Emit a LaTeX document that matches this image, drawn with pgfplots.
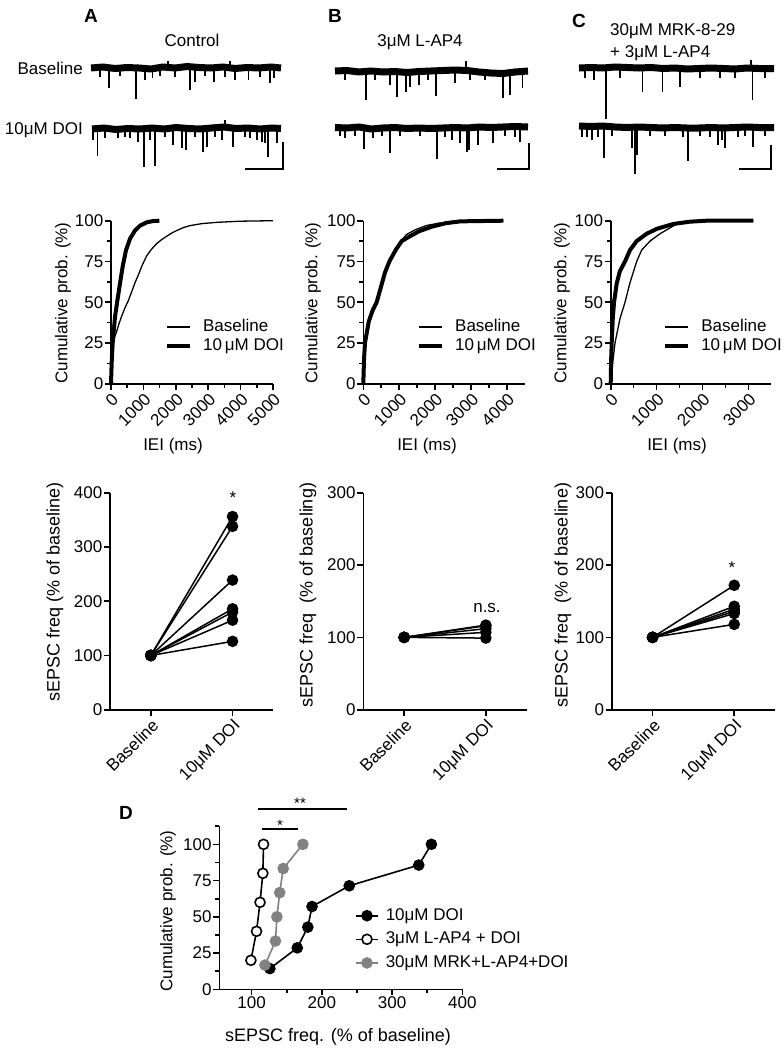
\documentclass[border=0pt]{standalone}
\usepackage{fontspec}
\setmainfont{Liberation Sans}
\usepackage{pgfplots}
\pgfplotsset{compat=1.18}
\newcommand{\fs}{\fontsize{17}{20}\selectfont}
\newcommand{\fl}{\fontsize{18}{21}\selectfont}
\newcommand{\fsb}{\fontsize{19}{22}\selectfont\bfseries}
\definecolor{gp}{RGB}{130,130,130}
\pgfplotsset{
 gpaxis/.style={scale only axis, axis x line=bottom, axis y line=left,
   axis line style={-, line width=1.6pt}, tick style={black, line width=1.6pt},
   tick align=outside, major tick length=6pt, minor tick length=4pt, clip=false,
   tick label style={font=\fs}, yticklabel style={inner sep=1.5pt},
   xticklabel style={inner sep=1.5pt}, scaled ticks=false, anchor=north west},
 cdf/.style={gpaxis, width=162pt, height=163pt, ymin=0, ymax=100,
   ytick={0,25,50,75,100}, yticklabels={0,25,50,75,100},
   minor y tick num=1, minor x tick num=1,
   xticklabel style={rotate=45, anchor=north east},
   legend cell align=left,
   legend style={draw=none, fill=none, inner sep=0pt, font=\fs, anchor=west, row sep=2pt,
     nodes={inner sep=1pt, text height=12pt, text depth=3pt}},
   legend image code/.code={\draw (0pt,0pt)--(23pt,0pt); \path (33pt,0pt);}},
 pair/.style={gpaxis, width=163.4pt, height=217pt, xmin=-0.5, xmax=1.5, ymin=0,
   xtick={0,1}, xticklabels={Baseline,10μM DOI},
   xticklabel style={rotate=45, anchor=north east}},
 pl/.style={black, line width=1.5pt, mark=*, mark size=5pt},
 band/.style={black, line width=7pt, line join=round},
 spk/.style={black, line width=1.2pt, unbounded coords=jump},
}
\begin{document}
\begin{tikzpicture}
\useasboundingbox (0,0) rectangle (784pt,-1050pt);
% ---------------- traces ----------------
\begin{axis}[hide axis, scale only axis, width=784pt, height=180pt, xmin=0, xmax=784,
  ymin=-180, ymax=0, at={(0pt,0pt)}, anchor=north west, clip=false]
\addplot[band] coordinates {(91,-68)(103,-67)(115,-68.5)(127,-67.5)(139,-68)(151,-69)(163,-67)(175,-68)(187,-66.5)(199,-67.5)(211,-68)(223,-67)(235,-68.5)(247,-67.5)(259,-68)(271,-67)(281,-68)};
\addplot[band] coordinates {(92,-129)(104,-128)(116,-129.5)(128,-128.5)(140,-129)(152,-128)(164,-129)(176,-127.5)(188,-128.5)(200,-129)(212,-128)(224,-127)(236,-128.5)(248,-128)(260,-129)(272,-128)(281,-128.5)};
\addplot[band] coordinates {(335,-71)(347,-70.5)(359,-72)(371,-71)(383,-72)(395,-71.5)(407,-72.5)(419,-71.5)(431,-71)(443,-70.5)(455,-70)(467,-70.5)(479,-72)(491,-73)(503,-73.5)(515,-72)(528,-71)};
\addplot[band] coordinates {(335,-127.5)(347,-128)(359,-127)(371,-129)(383,-128)(395,-127.5)(407,-128.5)(419,-128)(431,-128.5)(443,-128)(455,-127.5)(467,-128)(479,-127)(491,-127.5)(503,-127)(515,-126.5)(528,-127)};
\addplot[band] coordinates {(579,-68)(591,-67.5)(603,-68)(615,-67)(627,-67.5)(639,-68)(651,-67.5)(663,-68.5)(675,-68)(687,-69)(699,-68.5)(711,-68)(723,-68.5)(735,-69)(747,-68)(759,-68.5)(774,-68.5)};
\addplot[band] coordinates {(579,-126)(591,-126.5)(603,-126)(615,-127)(627,-127.5)(639,-127)(651,-127.5)(663,-128)(675,-127.5)(687,-128)(699,-128)(711,-127.5)(723,-128)(735,-127.5)(747,-127)(759,-127.5)(774,-127.5)};
% spikes A baseline
\addplot[spk] coordinates {
(100,-68)(100,-77)(100,nan)(109,-68)(109,-88)(109,nan)(120,-68)(120,-76)(120,nan)(136,-68)(136,-99)(136,nan)
(145,-68)(145,-80)(145,nan)(152.5,-68)(152.5,-78)(152.5,nan)(160,-68)(160,-76)(160,nan)(175,-68)(175,-77)(175,nan)
(190,-68)(190,-90)(190,nan)(195,-68)(195,-82)(195,nan)(205,-68)(205,-76)(205,nan)(214,-68)(214,-82)(214,nan)
(225,-68)(225,-77)(225,nan)(235,-68)(235,-80)(235,nan)(248.5,-68)(248.5,-80)(248.5,nan)(260,-68)(260,-77)(260,nan)
(270,-68)(270,-83)(270,nan)(274,-68)(274,-78)(274,nan)(168,-68)(168,-61)(168,nan)(230,-68)(230,-61)};
% spikes A DOI
\addplot[spk] coordinates {
(93,-128)(93,-140)(93,nan)(97.7,-128)(97.7,-156)(97.7,nan)(105,-128)(105,-138)(105,nan)(118,-128)(118,-138)(118,nan)
(125,-128)(125,-137)(125,nan)(130,-128)(130,-138)(130,nan)(138,-128)(138,-142)(138,nan)(144,-128)(144,-167)(144,nan)
(150,-128)(150,-140)(150,nan)(155,-128)(155,-166)(155,nan)(165,-128)(165,-137)(165,nan)(173,-128)(173,-145)(173,nan)
(182,-128)(182,-148)(182,nan)(186,-128)(186,-150)(186,nan)(195,-128)(195,-137)(195,nan)(203,-128)(203,-152)(203,nan)
(207,-128)(207,-147)(207,nan)(215,-128)(215,-137)(215,nan)(222,-128)(222,-140)(222,nan)(233,-128)(233,-147)(233,nan)
(245,-128)(245,-137)(245,nan)(250,-128)(250,-138)(250,nan)(257,-128)(257,-140)(257,nan)(262,-128)(262,-142)(262,nan)
(265,-128)(265,-143)(265,nan)(268,-128)(268,-157)(268,nan)(277,-128)(277,-143)(277,nan)(225,-128)(225,-120)};
% spikes B baseline
\addplot[spk] coordinates {
(345,-71)(345,-80)(345,nan)(366,-71)(366,-100)(366,nan)(375,-71)(375,-80)(375,nan)(390,-71)(390,-85)(390,nan)
(397,-71)(397,-97)(397,nan)(406,-71)(406,-92)(406,nan)(410,-71)(410,-87)(410,nan)(419,-71)(419,-85)(419,nan)
(428,-71)(428,-80)(428,nan)(436,-71)(436,-96)(436,nan)(455,-71)(455,-83)(455,nan)(466,-71)(466,-61)(466,nan)
(470,-71)(470,-80)(470,nan)(485,-71)(485,-80)(485,nan)(503,-71)(503,-98)(503,nan)(510,-71)(510,-95)(510,nan)
(522.5,-71)(522.5,-88)};
% spikes B DOI
\addplot[spk] coordinates {
(340,-128)(340,-136)(340,nan)(345,-128)(345,-138)(345,nan)(355,-128)(355,-136)(355,nan)(364,-128)(364,-149)(364,nan)
(373,-128)(373,-138)(373,nan)(382,-128)(382,-136)(382,nan)(390,-128)(390,-153)(390,nan)(400,-128)(400,-136)(400,nan)
(420,-128)(420,-136)(420,nan)(437,-128)(437,-159)(437,nan)(445,-128)(445,-137)(445,nan)(452,-128)(452,-140)(452,nan)
(460,-128)(460,-143)(460,nan)(467,-128)(467,-152)(467,nan)(469,-128)(469,-150)(469,nan)(478,-128)(478,-145)(478,nan)
(493,-128)(493,-143)(493,nan)(505,-128)(505,-136)(505,nan)(515,-128)(515,-137)(515,nan)(520,-128)(520,-142)};
% spikes C baseline
\addplot[spk] coordinates {
(585,-68)(585,-78)(585,nan)(594,-68)(594,-80)(594,nan)(606,-68)(606,-119)(606,nan)(620,-68)(620,-78)(620,nan)
(642.5,-68)(642.5,-92)(642.5,nan)(662.5,-68)(662.5,-92)(662.5,nan)(680,-68)(680,-87)(680,nan)(700,-68)(700,-78)(700,nan)
(720,-68)(720,-78)(720,nan)(735,-68)(735,-78)(735,nan)(752.5,-68)(752.5,-100)(752.5,nan)(751,-68)(751,-60)(751,nan)
(765,-68)(765,-78)};
% spikes C DOI
\addplot[spk] coordinates {
(582,-127)(582,-137)(582,nan)(587,-127)(587,-137)(587,nan)(592,-127)(592,-140)(592,nan)(598,-127)(598,-137)(598,nan)
(604,-127)(604,-158)(604,nan)(612,-127)(612,-136)(612,nan)(632,-127)(632,-148)(632,nan)(635,-127)(635,-174)(635,nan)
(637,-127)(637,-155)(637,nan)(650,-127)(650,-136)(650,nan)(665,-127)(665,-136)(665,nan)(683,-127)(683,-137)(683,nan)
(688,-127)(688,-161)(688,nan)(700,-127)(700,-136)(700,nan)(710,-127)(710,-137)(710,nan)(718,-127)(718,-145)(718,nan)
(722,-127)(722,-140)(722,nan)(725,-127)(725,-148)(725,nan)(738,-127)(738,-137)(738,nan)(745,-127)(745,-136)(745,nan)
(753,-127)(753,-147)(753,nan)(765,-127)(765,-136)};
% scale bars
\addplot[black, line width=2.2pt] coordinates {(245,-169)(283,-169)(283,-142)};
\addplot[black, line width=2.2pt] coordinates {(497,-169)(529,-169)(529,-143)};
\addplot[black, line width=2.2pt] coordinates {(739,-169)(771,-169)(771,-145)};
\end{axis}
% top texts
\node[font=\fsb, anchor=base] at (91pt,-22pt) {A};
\node[font=\fsb, anchor=base] at (335pt,-22pt) {B};
\node[font=\fsb, anchor=base] at (579pt,-27pt) {C};
\node[font=\fs, anchor=base] at (192pt,-46pt) {Control};
\node[font=\fs, anchor=base] at (420pt,-46pt) {3μM L-AP4};
\node[font=\fs, anchor=base west, inner sep=0pt] at (610pt,-35.3pt) {30μM MRK-8-29};
\node[font=\fs, anchor=base west, inner sep=0pt] at (610pt,-57.7pt) {+ 3μM L-AP4};
\node[font=\fs, anchor=base east, inner sep=0pt] at (83pt,-74pt) {Baseline};
\node[font=\fs, anchor=base east, inner sep=0pt] at (83pt,-134pt) {10μM DOI};
% ---------------- CDF panels ----------------
\begin{axis}[cdf, at={(111pt,-220.7pt)}, xmin=0, xmax=5000, xtick={0,1000,2000,3000,4000,5000},
  xticklabels={0,1000,2000,3000,4000,5000}, legend style={at={(0.333,0.2896)}}]
\addplot[black, line width=1.3pt] coordinates {(0,0)(15,10)(40,20)(72,25)(120,29)(175,32)(250,37)(330,41.5)(430,46.5)(536,51)(640,56.5)(742,62)(850,67)(948,72)(1030,75.5)(1103,78.5)(1250,82.5)(1412,86)(1570,88.5)(1722,90.5)(1880,92.5)(2031,94)(2240,95.8)(2443,97)(2800,98.2)(3268,99)(4000,99.7)(5000,100)};
\addlegendentry{Baseline}
\addplot[black, line width=4pt] coordinates {(0,0)(25,15)(52,25)(124,41)(196,51)(278,61.5)(361,72)(464,82)(588,89)(742,94)(897,97)(1103,99)(1300,99.8)(1495,100)};
\addlegendentry{10\,μM DOI}
\end{axis}
\begin{axis}[cdf, at={(363.3pt,-220.7pt)}, width=161.7pt, xmin=0, xmax=4500, xtick={0,1000,2000,3000,4000},
  xticklabels={0,1000,2000,3000,4000}, legend style={at={(0.332,0.2896)}}]
\addplot[black, line width=1.3pt] coordinates {(0,0)(20,16)(60,27)(160,40)(280,47)(372,51)(500,60)(600,67)(726,74)(900,82)(1070,88)(1200,91.5)(1450,94.5)(1750,97)(2100,98.5)(2600,99.6)(3900,100)};
\addlegendentry{Baseline}
\addplot[black, line width=4pt] coordinates {(0,0)(20,15)(47,25)(150,38)(260,45)(372,50)(500,60)(600,68)(726,75)(900,82)(1070,87.5)(1300,90.5)(1550,93.5)(1900,96.3)(2300,98.5)(2700,99.6)(3900,100)};
\addlegendentry{10\,μM DOI}
\end{axis}
\begin{axis}[cdf, at={(610.7pt,-220.7pt)}, width=160.6pt, xmin=0, xmax=3500, xtick={0,1000,2000,3000},
  xticklabels={0,1000,2000,3000}, legend style={at={(0.326,0.2896)}}]
\addplot[black, line width=1.3pt] coordinates {(0,0)(40,12)(94,25)(203,40)(312,50)(421,62)(566,75)(675,82)(857,87.5)(1075,92)(1256,95)(1438,98)(1728,99.5)(2091,100)(3108,100)};
\addlegendentry{Baseline}
\addplot[black, line width=4pt] coordinates {(0,0)(10,15)(22,25)(45,40)(73,50)(131,61.5)(200,69)(312,75)(421,82)(566,87.5)(784,92)(1002,95)(1365,98)(1728,99.4)(2091,100)(3108,100)};
\addlegendentry{10\,μM DOI}
\end{axis}
\node[font=\fs, rotate=90] at (63pt,-303pt) {Cumulative prob. (\%)};
\node[font=\fs, rotate=90] at (313pt,-303pt) {Cumulative prob. (\%)};
\node[font=\fs, rotate=90] at (562pt,-303pt) {Cumulative prob. (\%)};
\node[font=\fs] at (173pt,-446pt) {IEI (ms)};
\node[font=\fs] at (427pt,-446pt) {IEI (ms)};
\node[font=\fs] at (677pt,-446pt) {IEI (ms)};
% ---------------- paired panels ----------------
\begin{axis}[pair, at={(110pt,-492.7pt)}, ymax=400, ytick={0,100,200,300,400}, yticklabels={0,100,200,300,400}]
\addplot[pl] coordinates {(0,100)(1,356)};
\addplot[pl] coordinates {(0,100)(1,338)};
\addplot[pl] coordinates {(0,100)(1,239)};
\addplot[pl] coordinates {(0,100)(1,186)};
\addplot[pl] coordinates {(0,100)(1,180)};
\addplot[pl] coordinates {(0,100)(1,165)};
\addplot[pl] coordinates {(0,100)(1,126)};
\end{axis}
\begin{axis}[pair, at={(363.3pt,-492.7pt)}, ymax=300, ytick={0,100,200,300}, yticklabels={0,100,200,300}]
\addplot[pl] coordinates {(0,100)(1,99)};
\addplot[pl] coordinates {(0,100)(1,107)};
\addplot[pl] coordinates {(0,100)(1,112)};
\addplot[pl] coordinates {(0,100)(1,116)};
\addplot[pl] coordinates {(0,100)(1,117)};
\end{axis}
\begin{axis}[pair, at={(611.7pt,-492.7pt)}, ymax=300, ytick={0,100,200,300}, yticklabels={0,100,200,300}]
\addplot[pl] coordinates {(0,100)(1,172)};
\addplot[pl] coordinates {(0,100)(1,143)};
\addplot[pl] coordinates {(0,100)(1,139)};
\addplot[pl] coordinates {(0,100)(1,136)};
\addplot[pl] coordinates {(0,100)(1,133)};
\addplot[pl] coordinates {(0,100)(1,118)};
\end{axis}
\node[font=\fl, rotate=90] at (55pt,-592pt) {sEPSC freq (\% of baseline)};
\node[font=\fl, rotate=90] at (308pt,-595pt) {sEPSC freq\ \ (\% of baseling)};
\node[font=\fl, rotate=90] at (563pt,-595pt) {sEPSC freq\ \ (\% of baseline)};
\node[font=\fs, anchor=base] at (233pt,-503pt) {*};
\node[font=\fs, anchor=base] at (487pt,-612pt) {n.s.};
\node[font=\fs, anchor=base] at (732pt,-573pt) {*};
% ---------------- panel D ----------------
\begin{axis}[gpaxis, at={(219.3pt,-826.2pt)}, width=243pt, height=163.1pt, xmin=54, xmax=400,
  ymin=0, ymax=112.5, xtick={100,200,300,400}, xticklabels={100,200,300,400},
  minor xtick={150,250,350}, ytick={0,25,50,75,100}, yticklabels={0,25,50,75,100},
  minor ytick={12.5,37.5,62.5,87.5,112.5},
  legend cell align=left,
  legend style={draw=none, fill=none, inner sep=0pt, font=\fs, anchor=west, row sep=6.6pt,
     at={(0.5584,0.3066)}, nodes={inner sep=1pt, text height=12pt, text depth=3pt}},
  legend image code/.code={\draw[mark repeat=2,mark phase=2] plot coordinates {(0pt,0pt)(11pt,0pt)(22pt,0pt)}; \path (28pt,0pt);}]
\addplot[black, line width=1.6pt, mark=*, mark size=5pt] coordinates {(126,14.3)(165,28.6)(180,42.9)(186,57.1)(239,71.4)(338,85.7)(356,100)};
\addlegendentry{10μM DOI}
\addplot[black, line width=1.6pt, mark=*, mark size=5pt, mark options={fill=white, line width=1.6pt}] coordinates {(99,20)(107,40)(112,60)(116,80)(117,100)};
\addlegendentry{3μM L-AP4 + DOI}
\addplot[gp, line width=1.6pt, mark=*, mark size=5pt, mark options={fill=gp, draw=gp}] coordinates {(119,16.7)(134,33.3)(136,50)(140,66.7)(145,83.3)(173,100)};
\addlegendentry{30μM MRK+L-AP4+DOI}
\end{axis}
\node[font=\fs, rotate=90] at (168pt,-911pt) {Cumulative prob. (\%)};
\node[font=\fl] at (338pt,-1037pt) {sEPSC freq. (\% of baseline)};
\node[font=\fsb, anchor=base] at (126pt,-819pt) {D};
\draw[line width=1.8pt] (258.3pt,-809pt) -- (346.7pt,-809pt);
\draw[line width=1.8pt] (261.7pt,-829.3pt) -- (298.3pt,-829.3pt);
\node[font=\fontsize{15}{18}\selectfont, anchor=base] at (300pt,-808pt) {**};
\node[font=\fontsize{15}{18}\selectfont, anchor=base] at (280pt,-830pt) {*};
\end{tikzpicture}
\end{document}
